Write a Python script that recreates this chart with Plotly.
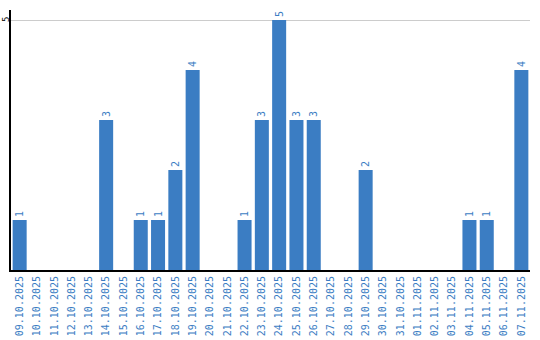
import plotly.graph_objects as go

dates = ["09.10.2025","10.10.2025","11.10.2025","12.10.2025","13.10.2025","14.10.2025",
         "15.10.2025","16.10.2025","17.10.2025","18.10.2025","19.10.2025","20.10.2025",
         "21.10.2025","22.10.2025","23.10.2025","24.10.2025","25.10.2025","26.10.2025",
         "27.10.2025","28.10.2025","29.10.2025","30.10.2025","31.10.2025","01.11.2025",
         "02.11.2025","03.11.2025","04.11.2025","05.11.2025","06.11.2025","07.11.2025"]
counts = [1,0,0,0,0,3,0,1,1,2,4,0,0,1,3,5,3,3,0,0,2,0,0,0,0,0,1,1,0,4]
y_ticks = [5]

blue = "#3b7dc3"
labels = [str(v) if v > 0 else "" for v in counts]

fig = go.Figure(go.Bar(
    x=dates, y=counts, marker=dict(color=blue, line=dict(width=0)),
    text=labels, textposition="outside", textangle=-90,
    textfont=dict(family="DejaVu Sans Mono", size=10, color=blue),
    cliponaxis=False, width=0.81,
))
for t in y_ticks:
    fig.add_annotation(xref="paper", yref="y", x=0, y=t, text=str(t),
                       textangle=-90, showarrow=False, xanchor="center",
                       yanchor="middle", xshift=-5,
                       font=dict(family="DejaVu Sans Mono", size=9, color="black"))
fig.update_layout(
    width=540, height=340, margin=dict(l=11, r=10, t=10, b=70, autoexpand=False),
    paper_bgcolor="white", plot_bgcolor="white", showlegend=False,
    xaxis=dict(type="category", tickangle=-90, showgrid=False, ticks="",
               showline=True, linecolor="black", linewidth=2, automargin=False,
               tickfont=dict(family="DejaVu Sans Mono", size=10, color=blue)),
    yaxis=dict(range=[0, 5.2], tickvals=y_ticks, showticklabels=False,
               showgrid=True, gridcolor="#cccccc", gridwidth=1, zeroline=False,
               showline=True, linecolor="black", linewidth=2, ticks="",
               automargin=False),
)
fig.write_html("out.html")
